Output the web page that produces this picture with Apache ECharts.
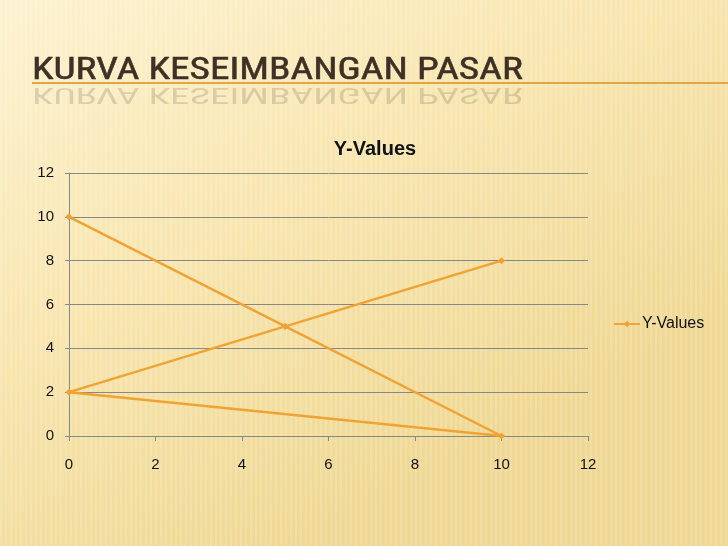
<!DOCTYPE html>
<html><head><meta charset="utf-8">
<style>html,body{margin:0;padding:0;}#c{width:728px;height:546px;}</style>
<script src="https://cdn.jsdelivr.net/npm/echarts@6/dist/echarts.min.js"></script>
</head><body><div id="c"></div>
<script>
const slideTitle = 'KURVA KESEIMBANGAN PASAR';
const seriesName = 'Y-Values';
const xValues = [0, 5, 10, 0, 5, 10];
const yValues = [10, 5, 0, 2, 5, 8];

const chart = echarts.init(document.getElementById('c'));
const pts = xValues.map((x, i) => [x, yValues[i]]);
const orange = '#f0a332';
const titleFont = 'normal 32px "Liberation Sans Narrow", "Roboto Condensed", sans-serif';

const stripes = [];
for (let x = 0; x < 728; x += 5) {
  stripes.push({type:'rect', silent:true, z:-9, shape:{x:x, y:0, width:2, height:546},
    style:{fill:'rgba(255,255,255,0.16)'}});
}

chart.setOption({
  backgroundColor: new echarts.graphic.LinearGradient(0, 0, 0.4, 1, [
    {offset: 0, color: '#fdf2d0'},
    {offset: 0.45, color: '#f9e7b2'},
    {offset: 1, color: '#efd893'}
  ]),
  graphic: stripes.concat([
    {type:'text', x: 32, y: 55, scaleX: 1.23, z: 10, style:{text: slideTitle, fill:'#3e3027',
      font: titleFont, stroke:'#3e3027', lineWidth:0.5}},
    {type:'text', x: 32, y: 82, scaleX: 1.23, scaleY: -0.7, z: 9, style:{text: slideTitle, fill:'rgba(62,48,39,0.17)',
      font: titleFont, verticalAlign:'bottom'}},
    {type:'line', z: 8, shape:{x1:32, y1:83, x2:728, y2:83}, style:{stroke:'#e2a649', lineWidth:2}}
  ]),
  title: {
    text: seriesName, left: 370, top: 134, textAlign: 'center',
    textStyle: {fontFamily:'Liberation Sans, Arial, sans-serif', fontSize: 20, fontWeight:'bold', color:'#111'}
  },
  legend: {
    data: [seriesName], left: 608, top: 311, itemWidth: 26, itemHeight: 8, itemGap: 4,
    textStyle: {fontFamily:'Liberation Sans, Arial, sans-serif', fontSize: 16, color:'#111', padding:[0,0,0,-3]}
  },
  grid: {left: 69, right: 140, top: 173, bottom: 110},
  xAxis: {
    type:'value', min:0, max:12, interval:2,
    axisLine:{lineStyle:{color:'#888', width:1}},
    axisTick:{show:true, length:5, lineStyle:{color:'#888'}},
    splitLine:{show:false},
    axisLabel:{fontFamily:'Liberation Sans, Arial, sans-serif', fontSize:15, color:'#111', margin:21}
  },
  yAxis: {
    type:'value', min:0, max:12, interval:2,
    axisLine:{show:true, lineStyle:{color:'#888', width:1}},
    axisTick:{show:true, length:4, lineStyle:{color:'#888'}},
    splitLine:{show:true, lineStyle:{color:'#888', width:1}},
    axisLabel:{fontFamily:'Liberation Sans, Arial, sans-serif', fontSize:15, color:'#111', margin:15}
  },
  series: [{
    name: seriesName, type:'line', data: pts,
    symbol:'diamond', symbolSize:7, showAllSymbol:true,
    lineStyle:{color: orange, width:2.5},
    itemStyle:{color: orange},
    animation:false
  }]
});
</script></body></html>
